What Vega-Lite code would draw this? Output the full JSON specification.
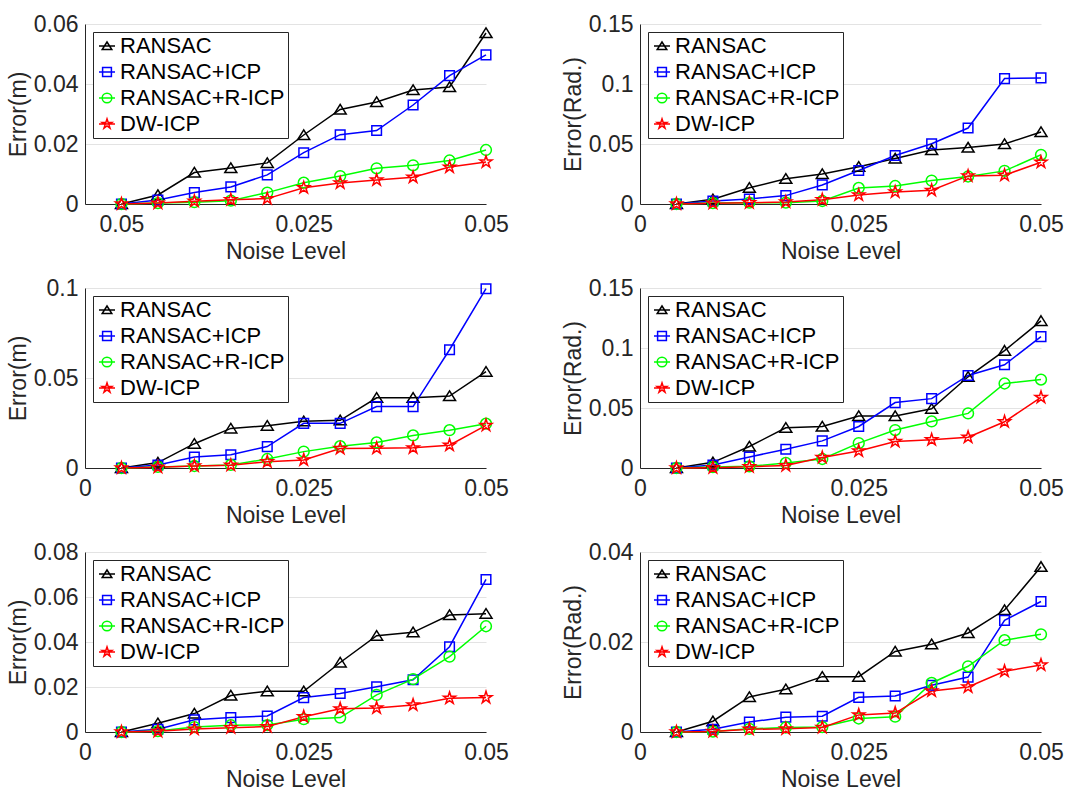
{
  "$schema": "https://vega.github.io/schema/vega-lite/v6.json",
  "padding": {"left": 7, "top": 13, "right": 5, "bottom": 5},
  "datasets": {
    "p1": [
      {"noise": 0, "RANSAC": 0, "RANSAC+ICP": 0, "RANSAC+R-ICP": 0, "DW-ICP": 0},
      {"noise": 0.005, "RANSAC": 0.003, "RANSAC+ICP": 0.0013, "RANSAC+R-ICP": 0.0003, "DW-ICP": 0.0003},
      {"noise": 0.01, "RANSAC": 0.0105, "RANSAC+ICP": 0.0038, "RANSAC+R-ICP": 0.0006, "DW-ICP": 0.0009},
      {"noise": 0.015, "RANSAC": 0.012, "RANSAC+ICP": 0.0057, "RANSAC+R-ICP": 0.0011, "DW-ICP": 0.0014},
      {"noise": 0.02, "RANSAC": 0.0137, "RANSAC+ICP": 0.0097, "RANSAC+R-ICP": 0.0038, "DW-ICP": 0.0018},
      {"noise": 0.025, "RANSAC": 0.023, "RANSAC+ICP": 0.0171, "RANSAC+R-ICP": 0.0071, "DW-ICP": 0.0054},
      {"noise": 0.03, "RANSAC": 0.0315, "RANSAC+ICP": 0.0231, "RANSAC+R-ICP": 0.0093, "DW-ICP": 0.007},
      {"noise": 0.035, "RANSAC": 0.034, "RANSAC+ICP": 0.0245, "RANSAC+R-ICP": 0.0119, "DW-ICP": 0.008},
      {"noise": 0.04, "RANSAC": 0.038, "RANSAC+ICP": 0.033, "RANSAC+R-ICP": 0.0129, "DW-ICP": 0.0089},
      {"noise": 0.045, "RANSAC": 0.039, "RANSAC+ICP": 0.0428, "RANSAC+R-ICP": 0.0145, "DW-ICP": 0.0123},
      {"noise": 0.05, "RANSAC": 0.057, "RANSAC+ICP": 0.0497, "RANSAC+R-ICP": 0.018, "DW-ICP": 0.014}
    ],
    "p2": [
      {"noise": 0, "RANSAC": 0, "RANSAC+ICP": 0, "RANSAC+R-ICP": 0, "DW-ICP": 0},
      {"noise": 0.005, "RANSAC": 0.004, "RANSAC+ICP": 0.0025, "RANSAC+R-ICP": 0.0008, "DW-ICP": 0.0006},
      {"noise": 0.01, "RANSAC": 0.0135, "RANSAC+ICP": 0.0042, "RANSAC+R-ICP": 0.0011, "DW-ICP": 0.0011},
      {"noise": 0.015, "RANSAC": 0.021, "RANSAC+ICP": 0.007, "RANSAC+R-ICP": 0.0011, "DW-ICP": 0.0017},
      {"noise": 0.02, "RANSAC": 0.025, "RANSAC+ICP": 0.0159, "RANSAC+R-ICP": 0.0025, "DW-ICP": 0.0036},
      {"noise": 0.025, "RANSAC": 0.031, "RANSAC+ICP": 0.0279, "RANSAC+R-ICP": 0.0134, "DW-ICP": 0.0075},
      {"noise": 0.03, "RANSAC": 0.038, "RANSAC+ICP": 0.0404, "RANSAC+R-ICP": 0.015, "DW-ICP": 0.01},
      {"noise": 0.035, "RANSAC": 0.045, "RANSAC+ICP": 0.0502, "RANSAC+R-ICP": 0.0195, "DW-ICP": 0.0114},
      {"noise": 0.04, "RANSAC": 0.047, "RANSAC+ICP": 0.0633, "RANSAC+R-ICP": 0.0229, "DW-ICP": 0.0234},
      {"noise": 0.045, "RANSAC": 0.05, "RANSAC+ICP": 0.1045, "RANSAC+R-ICP": 0.0276, "DW-ICP": 0.024},
      {"noise": 0.05, "RANSAC": 0.06, "RANSAC+ICP": 0.1051, "RANSAC+R-ICP": 0.041, "DW-ICP": 0.0348}
    ],
    "p3": [
      {"noise": 0, "RANSAC": 0, "RANSAC+ICP": 0, "RANSAC+R-ICP": 0, "DW-ICP": 0},
      {"noise": 0.005, "RANSAC": 0.003, "RANSAC+ICP": 0.0017, "RANSAC+R-ICP": 0.0006, "DW-ICP": 0.0004},
      {"noise": 0.01, "RANSAC": 0.0135, "RANSAC+ICP": 0.0061, "RANSAC+R-ICP": 0.0011, "DW-ICP": 0.0011},
      {"noise": 0.015, "RANSAC": 0.022, "RANSAC+ICP": 0.0074, "RANSAC+R-ICP": 0.0017, "DW-ICP": 0.0015},
      {"noise": 0.02, "RANSAC": 0.0235, "RANSAC+ICP": 0.0119, "RANSAC+R-ICP": 0.005, "DW-ICP": 0.0035},
      {"noise": 0.025, "RANSAC": 0.026, "RANSAC+ICP": 0.0248, "RANSAC+R-ICP": 0.0091, "DW-ICP": 0.0045},
      {"noise": 0.03, "RANSAC": 0.0265, "RANSAC+ICP": 0.0248, "RANSAC+R-ICP": 0.0121, "DW-ICP": 0.0108},
      {"noise": 0.035, "RANSAC": 0.039, "RANSAC+ICP": 0.0341, "RANSAC+R-ICP": 0.0142, "DW-ICP": 0.011},
      {"noise": 0.04, "RANSAC": 0.039, "RANSAC+ICP": 0.0341, "RANSAC+R-ICP": 0.0181, "DW-ICP": 0.0112},
      {"noise": 0.045, "RANSAC": 0.04, "RANSAC+ICP": 0.0657, "RANSAC+R-ICP": 0.021, "DW-ICP": 0.0127},
      {"noise": 0.05, "RANSAC": 0.0535, "RANSAC+ICP": 0.0996, "RANSAC+R-ICP": 0.0246, "DW-ICP": 0.0237}
    ],
    "p4": [
      {"noise": 0, "RANSAC": 0, "RANSAC+ICP": 0, "RANSAC+R-ICP": 0, "DW-ICP": 0},
      {"noise": 0.005, "RANSAC": 0.0047, "RANSAC+ICP": 0.0025, "RANSAC+R-ICP": 0.0008, "DW-ICP": 0.0003},
      {"noise": 0.01, "RANSAC": 0.0179, "RANSAC+ICP": 0.0092, "RANSAC+R-ICP": 0.0014, "DW-ICP": 0.0011},
      {"noise": 0.015, "RANSAC": 0.0335, "RANSAC+ICP": 0.0156, "RANSAC+R-ICP": 0.0042, "DW-ICP": 0.002},
      {"noise": 0.02, "RANSAC": 0.0346, "RANSAC+ICP": 0.0226, "RANSAC+R-ICP": 0.0075, "DW-ICP": 0.0087},
      {"noise": 0.025, "RANSAC": 0.0433, "RANSAC+ICP": 0.0346, "RANSAC+R-ICP": 0.0207, "DW-ICP": 0.0142},
      {"noise": 0.03, "RANSAC": 0.0433, "RANSAC+ICP": 0.0545, "RANSAC+R-ICP": 0.0316, "DW-ICP": 0.0221},
      {"noise": 0.035, "RANSAC": 0.0494, "RANSAC+ICP": 0.0578, "RANSAC+R-ICP": 0.0388, "DW-ICP": 0.0235},
      {"noise": 0.04, "RANSAC": 0.076, "RANSAC+ICP": 0.0771, "RANSAC+R-ICP": 0.0455, "DW-ICP": 0.0257},
      {"noise": 0.045, "RANSAC": 0.0978, "RANSAC+ICP": 0.086, "RANSAC+R-ICP": 0.0704, "DW-ICP": 0.0385},
      {"noise": 0.05, "RANSAC": 0.1226, "RANSAC+ICP": 0.1095, "RANSAC+R-ICP": 0.0737, "DW-ICP": 0.0589}
    ],
    "p5": [
      {"noise": 0, "RANSAC": 0, "RANSAC+ICP": 0, "RANSAC+R-ICP": 0, "DW-ICP": 0},
      {"noise": 0.005, "RANSAC": 0.0039, "RANSAC+ICP": 0.0012, "RANSAC+R-ICP": 0.0004, "DW-ICP": 0.0003},
      {"noise": 0.01, "RANSAC": 0.0082, "RANSAC+ICP": 0.0054, "RANSAC+R-ICP": 0.0022, "DW-ICP": 0.0013},
      {"noise": 0.015, "RANSAC": 0.0162, "RANSAC+ICP": 0.0064, "RANSAC+R-ICP": 0.003, "DW-ICP": 0.0019},
      {"noise": 0.02, "RANSAC": 0.0181, "RANSAC+ICP": 0.0071, "RANSAC+R-ICP": 0.0031, "DW-ICP": 0.0024},
      {"noise": 0.025, "RANSAC": 0.0181, "RANSAC+ICP": 0.0153, "RANSAC+R-ICP": 0.0057, "DW-ICP": 0.0068},
      {"noise": 0.03, "RANSAC": 0.0309, "RANSAC+ICP": 0.0171, "RANSAC+R-ICP": 0.0064, "DW-ICP": 0.0103},
      {"noise": 0.035, "RANSAC": 0.0428, "RANSAC+ICP": 0.0201, "RANSAC+R-ICP": 0.0165, "DW-ICP": 0.0107},
      {"noise": 0.04, "RANSAC": 0.0443, "RANSAC+ICP": 0.0232, "RANSAC+R-ICP": 0.0235, "DW-ICP": 0.012},
      {"noise": 0.045, "RANSAC": 0.052, "RANSAC+ICP": 0.0379, "RANSAC+R-ICP": 0.0335, "DW-ICP": 0.015},
      {"noise": 0.05, "RANSAC": 0.0526, "RANSAC+ICP": 0.0678, "RANSAC+R-ICP": 0.047, "DW-ICP": 0.0153}
    ],
    "p6": [
      {"noise": 0, "RANSAC": 0, "RANSAC+ICP": 0, "RANSAC+R-ICP": 0, "DW-ICP": 0},
      {"noise": 0.005, "RANSAC": 0.0024, "RANSAC+ICP": 0.0006, "RANSAC+R-ICP": 0.0001, "DW-ICP": 0.0001},
      {"noise": 0.01, "RANSAC": 0.0078, "RANSAC+ICP": 0.0022, "RANSAC+R-ICP": 0.0007, "DW-ICP": 0.0006},
      {"noise": 0.015, "RANSAC": 0.0095, "RANSAC+ICP": 0.0033, "RANSAC+R-ICP": 0.001, "DW-ICP": 0.0007},
      {"noise": 0.02, "RANSAC": 0.0123, "RANSAC+ICP": 0.0035, "RANSAC+R-ICP": 0.0011, "DW-ICP": 0.001},
      {"noise": 0.025, "RANSAC": 0.0123, "RANSAC+ICP": 0.0077, "RANSAC+R-ICP": 0.003, "DW-ICP": 0.0038},
      {"noise": 0.03, "RANSAC": 0.0179, "RANSAC+ICP": 0.008, "RANSAC+R-ICP": 0.0034, "DW-ICP": 0.0042},
      {"noise": 0.035, "RANSAC": 0.0195, "RANSAC+ICP": 0.0104, "RANSAC+R-ICP": 0.0109, "DW-ICP": 0.0091},
      {"noise": 0.04, "RANSAC": 0.022, "RANSAC+ICP": 0.0122, "RANSAC+R-ICP": 0.0146, "DW-ICP": 0.01},
      {"noise": 0.045, "RANSAC": 0.0271, "RANSAC+ICP": 0.0248, "RANSAC+R-ICP": 0.0204, "DW-ICP": 0.0135},
      {"noise": 0.05, "RANSAC": 0.0367, "RANSAC+ICP": 0.029, "RANSAC+R-ICP": 0.0217, "DW-ICP": 0.0149}
    ]
  },
  "config": {
    "font": "Liberation Sans",
    "view": {"stroke": null},
    "axis": {
      "labelFont": "Liberation Sans", "titleFont": "Liberation Sans",
      "labelFontSize": 23, "titleFontSize": 23, "titleFontWeight": "normal",
      "labelColor": "#262626", "titleColor": "#262626",
      "domainColor": "#262626", "domainWidth": 1, "ticks": false,
      "gridColor": "#e3e3e3", "gridWidth": 1, "labelFlush": false
    },
    "axisX": {"grid": false, "labelPadding": 9, "titlePadding": 4},
    "axisY": {"grid": true, "labelPadding": 7, "titlePadding": 3},
    "legend": {
      "orient": "top-left", "offset": 8, "strokeColor": "#262626", "fillColor": "white",
      "padding": 3, "symbolSize": 256, "symbolStrokeWidth": 1.5, "symbolOpacity": 1,
      "labelFont": "Liberation Sans", "labelFontSize": 22, "labelColor": "black", "labelLimit": 400,
      "rowPadding": 4, "labelOffset": 2, "cornerRadius": 0
    }
  },
  "columns": 2,
  "spacing": {"row": 84, "column": 154},
  "bounds": "flush",
  "resolve": {
    "scale": {"color": "independent", "shape": "independent"},
    "legend": {"color": "independent", "shape": "independent"}
  },
  "concat": [
    {
      "width": 401, "height": 180,
      "data": {"name": "p1"},
      "transform": [{"fold": ["RANSAC", "RANSAC+ICP", "RANSAC+R-ICP", "DW-ICP"], "as": ["method", "error"]}],
      "encoding": {
        "x": {"field": "noise", "type": "quantitative", "scale": {"domain": [-0.005, 0.05], "nice": false, "zero": false},
              "axis": {"values": [0, 0.025, 0.05], "labelExpr": "datum.value == 0 ? '0.05' : format(datum.value, '~g')", "title": "Noise Level"}},
        "y": {"field": "error", "type": "quantitative", "scale": {"domain": [0, 0.06], "nice": false},
              "axis": {"values": [0, 0.02, 0.04, 0.06], "labelExpr": "format(datum.value, '~g')", "title": "Error(m)"}}
      },
      "resolve": {"scale": {"color": "independent", "shape": "independent"}},
      "layer": [
        {"mark": {"type": "line", "strokeWidth": 1.5},
         "encoding": {"color": {"field": "method", "type": "nominal", "legend": null,
           "scale": {"domain": ["RANSAC", "RANSAC+ICP", "RANSAC+R-ICP", "DW-ICP"], "range": ["#000000", "#0000ff", "#00ff00", "#ff0000"]}}}},
        {"mark": {"type": "point", "filled": false, "size": 144, "strokeWidth": 1.5, "opacity": 1},
         "encoding": {
           "color": {"field": "method", "type": "nominal", "legend": null,
             "scale": {"domain": ["RANSAC", "RANSAC+ICP", "RANSAC+R-ICP", "DW-ICP"], "range": ["#000000", "#0000ff", "#00ff00", "#ff0000"]}},
           "shape": {"field": "method", "type": "nominal", "legend": null,
             "scale": {"domain": ["RANSAC", "RANSAC+ICP", "RANSAC+R-ICP", "DW-ICP"], "range": ["M0,-0.85L1,0.75L-1,0.75Z", "M-0.8,-0.8H0.8V0.8H-0.8Z", "M0.9,0A0.9,0.9,0,1,1,-0.9,0A0.9,0.9,0,1,1,0.9,0Z", "M0,-1.05L0.235,-0.324L0.999,-0.324L0.38,0.124L0.617,0.849L0,0.4L-0.617,0.849L-0.38,0.124L-0.999,-0.324L-0.235,-0.324Z"]}}
         }},
        {"transform": [{"filter": "datum.error < 0"}],
         "mark": {"type": "point", "filled": false, "strokeWidth": 1.5},
         "encoding": {
           "color": {"field": "method", "type": "nominal", "title": null,
             "scale": {"domain": ["RANSAC", "RANSAC+ICP", "RANSAC+R-ICP", "DW-ICP"], "range": ["#000000", "#0000ff", "#00ff00", "#ff0000"]}},
           "shape": {"field": "method", "type": "nominal", "title": null,
             "scale": {"domain": ["RANSAC", "RANSAC+ICP", "RANSAC+R-ICP", "DW-ICP"], "range": ["M-1,0H1M0,-0.5L0.6,0.45L-0.6,0.45Z", "M-1,0H1M-0.55,-0.55H0.55V0.55H-0.55Z", "M-1,0H1M0.6,0A0.6,0.6,0,1,1,-0.6,0A0.6,0.6,0,1,1,0.6,0Z", "M-1,0H1M0,-0.65L0.147,-0.202L0.618,-0.201L0.238,0.077L0.382,0.526L0,0.25L-0.382,0.526L-0.238,0.077L-0.618,-0.201L-0.147,-0.202Z"]}}
         }}
      ]
    },
    {
      "width": 401, "height": 180,
      "data": {"name": "p2"},
      "transform": [{"fold": ["RANSAC", "RANSAC+ICP", "RANSAC+R-ICP", "DW-ICP"], "as": ["method", "error"]}],
      "encoding": {
        "x": {"field": "noise", "type": "quantitative", "scale": {"domain": [-0.005, 0.05], "nice": false, "zero": false},
              "axis": {"values": [-0.005, 0.025, 0.05], "labelExpr": "datum.value < 0 ? '0' : format(datum.value, '~g')", "title": "Noise Level"}},
        "y": {"field": "error", "type": "quantitative", "scale": {"domain": [0, 0.15], "nice": false},
              "axis": {"values": [0, 0.05, 0.1, 0.15], "labelExpr": "format(datum.value, '~g')", "title": "Error(Rad.)"}}
      },
      "resolve": {"scale": {"color": "independent", "shape": "independent"}},
      "layer": [
        {"mark": {"type": "line", "strokeWidth": 1.5},
         "encoding": {"color": {"field": "method", "type": "nominal", "legend": null,
           "scale": {"domain": ["RANSAC", "RANSAC+ICP", "RANSAC+R-ICP", "DW-ICP"], "range": ["#000000", "#0000ff", "#00ff00", "#ff0000"]}}}},
        {"mark": {"type": "point", "filled": false, "size": 144, "strokeWidth": 1.5, "opacity": 1},
         "encoding": {
           "color": {"field": "method", "type": "nominal", "legend": null,
             "scale": {"domain": ["RANSAC", "RANSAC+ICP", "RANSAC+R-ICP", "DW-ICP"], "range": ["#000000", "#0000ff", "#00ff00", "#ff0000"]}},
           "shape": {"field": "method", "type": "nominal", "legend": null,
             "scale": {"domain": ["RANSAC", "RANSAC+ICP", "RANSAC+R-ICP", "DW-ICP"], "range": ["M0,-0.85L1,0.75L-1,0.75Z", "M-0.8,-0.8H0.8V0.8H-0.8Z", "M0.9,0A0.9,0.9,0,1,1,-0.9,0A0.9,0.9,0,1,1,0.9,0Z", "M0,-1.05L0.235,-0.324L0.999,-0.324L0.38,0.124L0.617,0.849L0,0.4L-0.617,0.849L-0.38,0.124L-0.999,-0.324L-0.235,-0.324Z"]}}
         }},
        {"transform": [{"filter": "datum.error < 0"}],
         "mark": {"type": "point", "filled": false, "strokeWidth": 1.5},
         "encoding": {
           "color": {"field": "method", "type": "nominal", "title": null,
             "scale": {"domain": ["RANSAC", "RANSAC+ICP", "RANSAC+R-ICP", "DW-ICP"], "range": ["#000000", "#0000ff", "#00ff00", "#ff0000"]}},
           "shape": {"field": "method", "type": "nominal", "title": null,
             "scale": {"domain": ["RANSAC", "RANSAC+ICP", "RANSAC+R-ICP", "DW-ICP"], "range": ["M-1,0H1M0,-0.5L0.6,0.45L-0.6,0.45Z", "M-1,0H1M-0.55,-0.55H0.55V0.55H-0.55Z", "M-1,0H1M0.6,0A0.6,0.6,0,1,1,-0.6,0A0.6,0.6,0,1,1,0.6,0Z", "M-1,0H1M0,-0.65L0.147,-0.202L0.618,-0.201L0.238,0.077L0.382,0.526L0,0.25L-0.382,0.526L-0.238,0.077L-0.618,-0.201L-0.147,-0.202Z"]}}
         }}
      ]
    },
    {
      "width": 401, "height": 180,
      "data": {"name": "p3"},
      "transform": [{"fold": ["RANSAC", "RANSAC+ICP", "RANSAC+R-ICP", "DW-ICP"], "as": ["method", "error"]}],
      "encoding": {
        "x": {"field": "noise", "type": "quantitative", "scale": {"domain": [-0.005, 0.05], "nice": false, "zero": false},
              "axis": {"values": [-0.005, 0.025, 0.05], "labelExpr": "datum.value < 0 ? '0' : format(datum.value, '~g')", "title": "Noise Level"}},
        "y": {"field": "error", "type": "quantitative", "scale": {"domain": [0, 0.1], "nice": false},
              "axis": {"values": [0, 0.05, 0.1], "labelExpr": "format(datum.value, '~g')", "title": "Error(m)"}}
      },
      "resolve": {"scale": {"color": "independent", "shape": "independent"}},
      "layer": [
        {"mark": {"type": "line", "strokeWidth": 1.5},
         "encoding": {"color": {"field": "method", "type": "nominal", "legend": null,
           "scale": {"domain": ["RANSAC", "RANSAC+ICP", "RANSAC+R-ICP", "DW-ICP"], "range": ["#000000", "#0000ff", "#00ff00", "#ff0000"]}}}},
        {"mark": {"type": "point", "filled": false, "size": 144, "strokeWidth": 1.5, "opacity": 1},
         "encoding": {
           "color": {"field": "method", "type": "nominal", "legend": null,
             "scale": {"domain": ["RANSAC", "RANSAC+ICP", "RANSAC+R-ICP", "DW-ICP"], "range": ["#000000", "#0000ff", "#00ff00", "#ff0000"]}},
           "shape": {"field": "method", "type": "nominal", "legend": null,
             "scale": {"domain": ["RANSAC", "RANSAC+ICP", "RANSAC+R-ICP", "DW-ICP"], "range": ["M0,-0.85L1,0.75L-1,0.75Z", "M-0.8,-0.8H0.8V0.8H-0.8Z", "M0.9,0A0.9,0.9,0,1,1,-0.9,0A0.9,0.9,0,1,1,0.9,0Z", "M0,-1.05L0.235,-0.324L0.999,-0.324L0.38,0.124L0.617,0.849L0,0.4L-0.617,0.849L-0.38,0.124L-0.999,-0.324L-0.235,-0.324Z"]}}
         }},
        {"transform": [{"filter": "datum.error < 0"}],
         "mark": {"type": "point", "filled": false, "strokeWidth": 1.5},
         "encoding": {
           "color": {"field": "method", "type": "nominal", "title": null,
             "scale": {"domain": ["RANSAC", "RANSAC+ICP", "RANSAC+R-ICP", "DW-ICP"], "range": ["#000000", "#0000ff", "#00ff00", "#ff0000"]}},
           "shape": {"field": "method", "type": "nominal", "title": null,
             "scale": {"domain": ["RANSAC", "RANSAC+ICP", "RANSAC+R-ICP", "DW-ICP"], "range": ["M-1,0H1M0,-0.5L0.6,0.45L-0.6,0.45Z", "M-1,0H1M-0.55,-0.55H0.55V0.55H-0.55Z", "M-1,0H1M0.6,0A0.6,0.6,0,1,1,-0.6,0A0.6,0.6,0,1,1,0.6,0Z", "M-1,0H1M0,-0.65L0.147,-0.202L0.618,-0.201L0.238,0.077L0.382,0.526L0,0.25L-0.382,0.526L-0.238,0.077L-0.618,-0.201L-0.147,-0.202Z"]}}
         }}
      ]
    },
    {
      "width": 401, "height": 180,
      "data": {"name": "p4"},
      "transform": [{"fold": ["RANSAC", "RANSAC+ICP", "RANSAC+R-ICP", "DW-ICP"], "as": ["method", "error"]}],
      "encoding": {
        "x": {"field": "noise", "type": "quantitative", "scale": {"domain": [-0.005, 0.05], "nice": false, "zero": false},
              "axis": {"values": [-0.005, 0.025, 0.05], "labelExpr": "datum.value < 0 ? '0' : format(datum.value, '~g')", "title": "Noise Level"}},
        "y": {"field": "error", "type": "quantitative", "scale": {"domain": [0, 0.15], "nice": false},
              "axis": {"values": [0, 0.05, 0.1, 0.15], "labelExpr": "format(datum.value, '~g')", "title": "Error(Rad.)"}}
      },
      "resolve": {"scale": {"color": "independent", "shape": "independent"}},
      "layer": [
        {"mark": {"type": "line", "strokeWidth": 1.5},
         "encoding": {"color": {"field": "method", "type": "nominal", "legend": null,
           "scale": {"domain": ["RANSAC", "RANSAC+ICP", "RANSAC+R-ICP", "DW-ICP"], "range": ["#000000", "#0000ff", "#00ff00", "#ff0000"]}}}},
        {"mark": {"type": "point", "filled": false, "size": 144, "strokeWidth": 1.5, "opacity": 1},
         "encoding": {
           "color": {"field": "method", "type": "nominal", "legend": null,
             "scale": {"domain": ["RANSAC", "RANSAC+ICP", "RANSAC+R-ICP", "DW-ICP"], "range": ["#000000", "#0000ff", "#00ff00", "#ff0000"]}},
           "shape": {"field": "method", "type": "nominal", "legend": null,
             "scale": {"domain": ["RANSAC", "RANSAC+ICP", "RANSAC+R-ICP", "DW-ICP"], "range": ["M0,-0.85L1,0.75L-1,0.75Z", "M-0.8,-0.8H0.8V0.8H-0.8Z", "M0.9,0A0.9,0.9,0,1,1,-0.9,0A0.9,0.9,0,1,1,0.9,0Z", "M0,-1.05L0.235,-0.324L0.999,-0.324L0.38,0.124L0.617,0.849L0,0.4L-0.617,0.849L-0.38,0.124L-0.999,-0.324L-0.235,-0.324Z"]}}
         }},
        {"transform": [{"filter": "datum.error < 0"}],
         "mark": {"type": "point", "filled": false, "strokeWidth": 1.5},
         "encoding": {
           "color": {"field": "method", "type": "nominal", "title": null,
             "scale": {"domain": ["RANSAC", "RANSAC+ICP", "RANSAC+R-ICP", "DW-ICP"], "range": ["#000000", "#0000ff", "#00ff00", "#ff0000"]}},
           "shape": {"field": "method", "type": "nominal", "title": null,
             "scale": {"domain": ["RANSAC", "RANSAC+ICP", "RANSAC+R-ICP", "DW-ICP"], "range": ["M-1,0H1M0,-0.5L0.6,0.45L-0.6,0.45Z", "M-1,0H1M-0.55,-0.55H0.55V0.55H-0.55Z", "M-1,0H1M0.6,0A0.6,0.6,0,1,1,-0.6,0A0.6,0.6,0,1,1,0.6,0Z", "M-1,0H1M0,-0.65L0.147,-0.202L0.618,-0.201L0.238,0.077L0.382,0.526L0,0.25L-0.382,0.526L-0.238,0.077L-0.618,-0.201L-0.147,-0.202Z"]}}
         }}
      ]
    },
    {
      "width": 401, "height": 180,
      "data": {"name": "p5"},
      "transform": [{"fold": ["RANSAC", "RANSAC+ICP", "RANSAC+R-ICP", "DW-ICP"], "as": ["method", "error"]}],
      "encoding": {
        "x": {"field": "noise", "type": "quantitative", "scale": {"domain": [-0.005, 0.05], "nice": false, "zero": false},
              "axis": {"values": [-0.005, 0.025, 0.05], "labelExpr": "datum.value < 0 ? '0' : format(datum.value, '~g')", "title": "Noise Level"}},
        "y": {"field": "error", "type": "quantitative", "scale": {"domain": [0, 0.08], "nice": false},
              "axis": {"values": [0, 0.02, 0.04, 0.06, 0.08], "labelExpr": "format(datum.value, '~g')", "title": "Error(m)"}}
      },
      "resolve": {"scale": {"color": "independent", "shape": "independent"}},
      "layer": [
        {"mark": {"type": "line", "strokeWidth": 1.5},
         "encoding": {"color": {"field": "method", "type": "nominal", "legend": null,
           "scale": {"domain": ["RANSAC", "RANSAC+ICP", "RANSAC+R-ICP", "DW-ICP"], "range": ["#000000", "#0000ff", "#00ff00", "#ff0000"]}}}},
        {"mark": {"type": "point", "filled": false, "size": 144, "strokeWidth": 1.5, "opacity": 1},
         "encoding": {
           "color": {"field": "method", "type": "nominal", "legend": null,
             "scale": {"domain": ["RANSAC", "RANSAC+ICP", "RANSAC+R-ICP", "DW-ICP"], "range": ["#000000", "#0000ff", "#00ff00", "#ff0000"]}},
           "shape": {"field": "method", "type": "nominal", "legend": null,
             "scale": {"domain": ["RANSAC", "RANSAC+ICP", "RANSAC+R-ICP", "DW-ICP"], "range": ["M0,-0.85L1,0.75L-1,0.75Z", "M-0.8,-0.8H0.8V0.8H-0.8Z", "M0.9,0A0.9,0.9,0,1,1,-0.9,0A0.9,0.9,0,1,1,0.9,0Z", "M0,-1.05L0.235,-0.324L0.999,-0.324L0.38,0.124L0.617,0.849L0,0.4L-0.617,0.849L-0.38,0.124L-0.999,-0.324L-0.235,-0.324Z"]}}
         }},
        {"transform": [{"filter": "datum.error < 0"}],
         "mark": {"type": "point", "filled": false, "strokeWidth": 1.5},
         "encoding": {
           "color": {"field": "method", "type": "nominal", "title": null,
             "scale": {"domain": ["RANSAC", "RANSAC+ICP", "RANSAC+R-ICP", "DW-ICP"], "range": ["#000000", "#0000ff", "#00ff00", "#ff0000"]}},
           "shape": {"field": "method", "type": "nominal", "title": null,
             "scale": {"domain": ["RANSAC", "RANSAC+ICP", "RANSAC+R-ICP", "DW-ICP"], "range": ["M-1,0H1M0,-0.5L0.6,0.45L-0.6,0.45Z", "M-1,0H1M-0.55,-0.55H0.55V0.55H-0.55Z", "M-1,0H1M0.6,0A0.6,0.6,0,1,1,-0.6,0A0.6,0.6,0,1,1,0.6,0Z", "M-1,0H1M0,-0.65L0.147,-0.202L0.618,-0.201L0.238,0.077L0.382,0.526L0,0.25L-0.382,0.526L-0.238,0.077L-0.618,-0.201L-0.147,-0.202Z"]}}
         }}
      ]
    },
    {
      "width": 401, "height": 180,
      "data": {"name": "p6"},
      "transform": [{"fold": ["RANSAC", "RANSAC+ICP", "RANSAC+R-ICP", "DW-ICP"], "as": ["method", "error"]}],
      "encoding": {
        "x": {"field": "noise", "type": "quantitative", "scale": {"domain": [-0.005, 0.05], "nice": false, "zero": false},
              "axis": {"values": [-0.005, 0.025, 0.05], "labelExpr": "datum.value < 0 ? '0' : format(datum.value, '~g')", "title": "Noise Level"}},
        "y": {"field": "error", "type": "quantitative", "scale": {"domain": [0, 0.04], "nice": false},
              "axis": {"values": [0, 0.02, 0.04], "labelExpr": "format(datum.value, '~g')", "title": "Error(Rad.)"}}
      },
      "resolve": {"scale": {"color": "independent", "shape": "independent"}},
      "layer": [
        {"mark": {"type": "line", "strokeWidth": 1.5},
         "encoding": {"color": {"field": "method", "type": "nominal", "legend": null,
           "scale": {"domain": ["RANSAC", "RANSAC+ICP", "RANSAC+R-ICP", "DW-ICP"], "range": ["#000000", "#0000ff", "#00ff00", "#ff0000"]}}}},
        {"mark": {"type": "point", "filled": false, "size": 144, "strokeWidth": 1.5, "opacity": 1},
         "encoding": {
           "color": {"field": "method", "type": "nominal", "legend": null,
             "scale": {"domain": ["RANSAC", "RANSAC+ICP", "RANSAC+R-ICP", "DW-ICP"], "range": ["#000000", "#0000ff", "#00ff00", "#ff0000"]}},
           "shape": {"field": "method", "type": "nominal", "legend": null,
             "scale": {"domain": ["RANSAC", "RANSAC+ICP", "RANSAC+R-ICP", "DW-ICP"], "range": ["M0,-0.85L1,0.75L-1,0.75Z", "M-0.8,-0.8H0.8V0.8H-0.8Z", "M0.9,0A0.9,0.9,0,1,1,-0.9,0A0.9,0.9,0,1,1,0.9,0Z", "M0,-1.05L0.235,-0.324L0.999,-0.324L0.38,0.124L0.617,0.849L0,0.4L-0.617,0.849L-0.38,0.124L-0.999,-0.324L-0.235,-0.324Z"]}}
         }},
        {"transform": [{"filter": "datum.error < 0"}],
         "mark": {"type": "point", "filled": false, "strokeWidth": 1.5},
         "encoding": {
           "color": {"field": "method", "type": "nominal", "title": null,
             "scale": {"domain": ["RANSAC", "RANSAC+ICP", "RANSAC+R-ICP", "DW-ICP"], "range": ["#000000", "#0000ff", "#00ff00", "#ff0000"]}},
           "shape": {"field": "method", "type": "nominal", "title": null,
             "scale": {"domain": ["RANSAC", "RANSAC+ICP", "RANSAC+R-ICP", "DW-ICP"], "range": ["M-1,0H1M0,-0.5L0.6,0.45L-0.6,0.45Z", "M-1,0H1M-0.55,-0.55H0.55V0.55H-0.55Z", "M-1,0H1M0.6,0A0.6,0.6,0,1,1,-0.6,0A0.6,0.6,0,1,1,0.6,0Z", "M-1,0H1M0,-0.65L0.147,-0.202L0.618,-0.201L0.238,0.077L0.382,0.526L0,0.25L-0.382,0.526L-0.238,0.077L-0.618,-0.201L-0.147,-0.202Z"]}}
         }}
      ]
    }
  ]
}
